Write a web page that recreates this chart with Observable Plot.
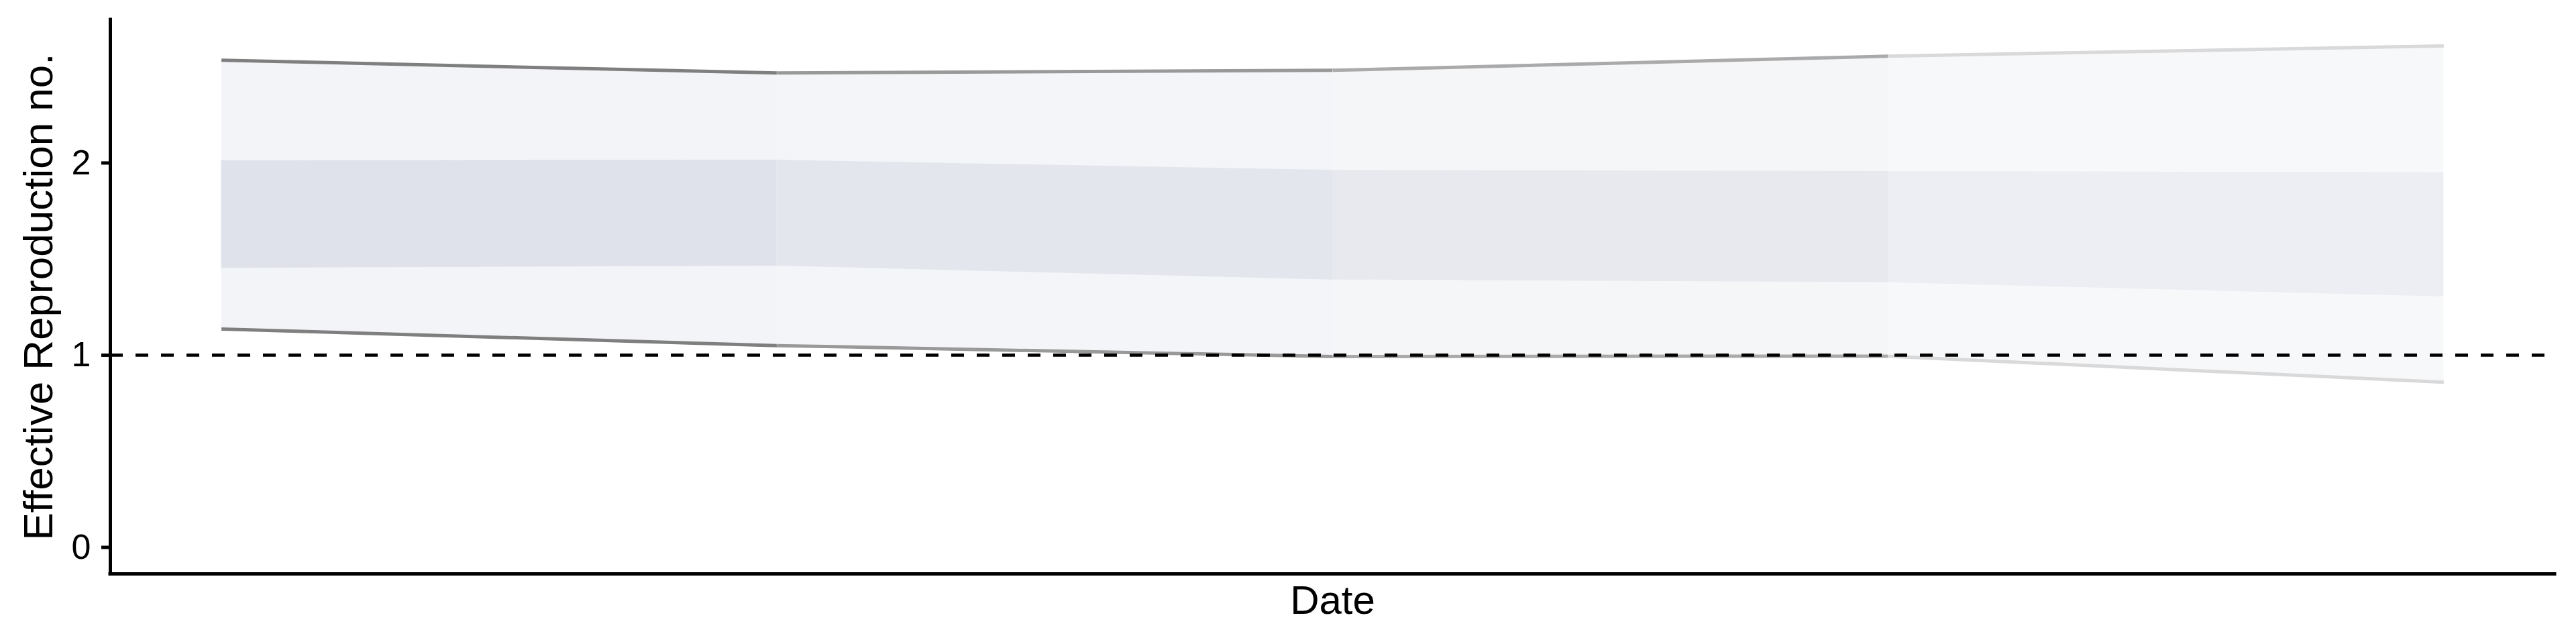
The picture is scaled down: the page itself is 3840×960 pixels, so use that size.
<!DOCTYPE html>
<html>
<head>
<meta charset="utf-8">
<script src="https://cdn.jsdelivr.net/npm/d3@7"></script>
<script src="https://cdn.jsdelivr.net/npm/@observablehq/plot@0.6"></script>
<style>
  html, body { margin: 0; padding: 0; background: #ffffff; }
  #chart { width: 3840px; height: 960px; }
  svg { font-family: "Liberation Sans", Arial, Helvetica, sans-serif; color: #000; }
</style>
</head>
<body>
<div id="chart"></div>
<script>
// ---- Data ----
const dates   = ["2020-04-06", "2020-04-13", "2020-04-20", "2020-04-27", "2020-05-04"];
const upper90 = [2.535, 2.468, 2.482, 2.556, 2.609];
const upper50 = [2.012, 2.015, 1.962, 1.956, 1.950];
const lower50 = [1.453, 1.464, 1.392, 1.378, 1.304];
const lower90 = [1.136, 1.050, 0.993, 0.995, 0.859];
const yTicks = [0, 1, 2];
const yDomain = [-0.138, 2.745];
const threshold = [1];
const yLabel = "Effective Reproduction no.";
const xLabel = "Date";

// ---- Styles (per segment, fading over time) ----
const outerFill  = ["#f3f4f8", "#f4f5f8", "#f5f6f8", "#f7f8fa"];
const innerFill  = ["#dfe2ea", "#e3e6ed", "#e7e9ee", "#eceef3"];
const lineStroke = ["#7f7f7f", "#999999", "#aaaaaa", "#d9d9d9"];

const parse = d3.utcParse("%Y-%m-%d");
const rows = dates.map((d, i) => ({
  date: parse(d), hi90: upper90[i], hi50: upper50[i], lo50: lower50[i], lo90: lower90[i]
}));
const [x0, x1] = d3.extent(rows, d => d.date);
const pad = (x1 - x0) * 0.05;
const xDomain = [new Date(+x0 - pad), new Date(+x1 + pad)];
const segs = d3.range(rows.length - 1).map(s => rows.slice(s, s + 2));

const chart = Plot.plot({
  width: 3840,
  height: 960,
  marginLeft: 164,
  marginRight: 32,
  marginTop: 29,
  marginBottom: 105,
  style: { background: "#ffffff", color: "#000", fontFamily: "'Liberation Sans', Arial, Helvetica, sans-serif" },
  x: { type: "utc", domain: xDomain, axis: null },
  y: { domain: yDomain },
  marks: [
    ...segs.flatMap((seg, s) => [
      Plot.areaY(seg, { x: "date", y1: "lo90", y2: "hi90", fill: outerFill[s] }),
      Plot.areaY(seg, { x: "date", y1: "lo50", y2: "hi50", fill: innerFill[s] }),
      Plot.lineY(seg, { x: "date", y: "hi90", stroke: lineStroke[s], strokeWidth: 5, strokeLinecap: "butt" }),
      Plot.lineY(seg, { x: "date", y: "lo90", stroke: lineStroke[s], strokeWidth: 5, strokeLinecap: "butt" })
    ]),
    Plot.ruleY(threshold, { stroke: "#000", strokeWidth: 4.7, strokeDasharray: "19,19" }),
    Plot.ruleX([xDomain[0]], { stroke: "#000", strokeWidth: 5, strokeLinecap: "square" }),
    Plot.ruleY([yDomain[0]], { stroke: "#000", strokeWidth: 5, strokeLinecap: "square" }),
    Plot.axisY({ ticks: yTicks, tickSize: 13, tickPadding: 16, fontSize: 52, strokeWidth: 5, label: null, tickFormat: d3.format("d") }),
    Plot.text([yLabel], { text: d => d, frameAnchor: "left", textAnchor: "middle", rotate: -90, dx: -87, lineAnchor: "bottom", fontSize: 62, fill: "#000" }),
    Plot.text([xLabel], { text: d => d, frameAnchor: "bottom", textAnchor: "middle", dy: 17, lineAnchor: "top", fontSize: 60, fill: "#000" })
  ]
});
document.getElementById("chart").appendChild(chart);
</script>
</body>
</html>
